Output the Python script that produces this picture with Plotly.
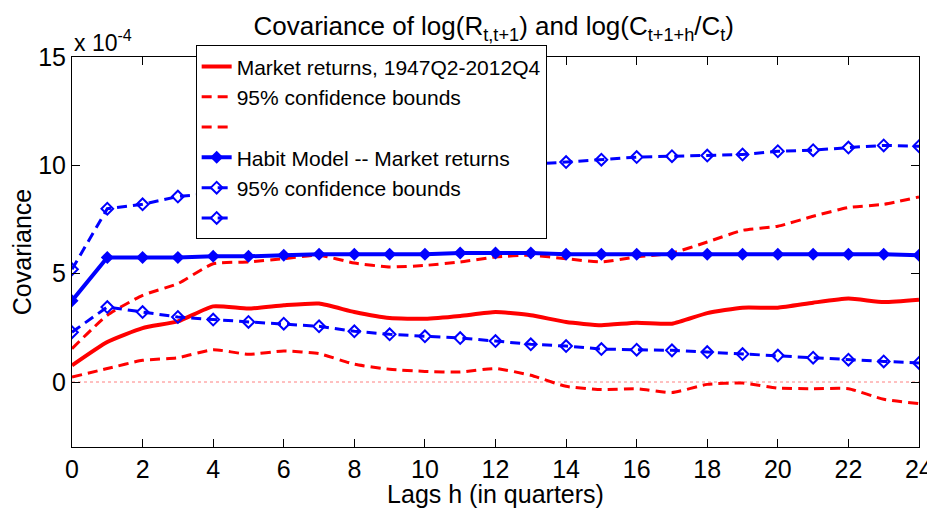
import plotly.graph_objects as go

SCALE = 1e-4
lags = list(range(25))

# values in units of 1e-4
market = [0.77, 1.85, 2.49, 2.80, 3.49, 3.39, 3.54, 3.62, 3.23, 2.95, 2.92, 3.05, 3.23,
          3.08, 2.77, 2.62, 2.74, 2.69, 3.18, 3.43, 3.43, 3.66, 3.85, 3.69, 3.80]
market_upper = [1.54, 3.08, 4.00, 4.54, 5.46, 5.54, 5.69, 5.85, 5.49, 5.31, 5.38, 5.54, 5.77,
                5.85, 5.69, 5.54, 5.77, 5.95, 6.46, 7.00, 7.19, 7.65, 8.05, 8.20, 8.54]
market_lower = [0.23, 0.62, 1.00, 1.12, 1.49, 1.28, 1.43, 1.31, 0.82, 0.59, 0.49, 0.46, 0.62,
                0.31, -0.20, -0.35, -0.31, -0.49, -0.11, -0.05, -0.28, -0.31, -0.31, -0.80, -1.00]
habit = [3.75, 5.75, 5.75, 5.75, 5.80, 5.80, 5.85, 5.90, 5.90, 5.90, 5.90, 5.95, 5.95,
         5.95, 5.90, 5.90, 5.90, 5.90, 5.90, 5.90, 5.90, 5.90, 5.90, 5.90, 5.85]
habit_upper = [5.20, 8.00, 8.20, 8.56, 8.70, 8.85, 9.00, 9.20, 9.35, 9.50, 9.65, 9.80, 9.90,
               10.05, 10.15, 10.26, 10.38, 10.42, 10.45, 10.50, 10.65, 10.70, 10.82, 10.92, 10.88]
habit_lower = [2.30, 3.46, 3.23, 3.00, 2.88, 2.77, 2.69, 2.57, 2.34, 2.20, 2.11, 2.03, 1.89,
               1.74, 1.66, 1.52, 1.49, 1.46, 1.38, 1.29, 1.22, 1.12, 1.03, 0.95, 0.88]

xticks = list(range(0, 25, 2))
yticks = [0, 5, 10, 15]
ytick_labels = ["0", "5", "10", "15"]

def sc(v):
    return [a * SCALE for a in v]

RED = "#ff0000"
BLUE = "#0000ff"
FONT = "Liberation Sans, Arial, sans-serif"
DASH = "10px,6px"

fig = go.Figure()

fig.add_trace(go.Scatter(x=lags, y=sc(market), mode="lines", name="Market returns, 1947Q2-2012Q4",
                         line=dict(color=RED, width=4, shape="spline", smoothing=0.5), legendrank=1))
fig.add_trace(go.Scatter(x=lags, y=sc(market_upper), mode="lines", name="95% confidence bounds",
                         line=dict(color=RED, width=3, dash=DASH, shape="spline", smoothing=0.5), legendrank=2))
fig.add_trace(go.Scatter(x=lags, y=sc(market_lower), mode="lines", name="",
                         line=dict(color=RED, width=3, dash=DASH, shape="spline", smoothing=0.5), legendrank=3))
fig.add_trace(go.Scatter(x=lags, y=sc(habit_upper), mode="lines+markers", name="95% confidence bounds",
                         line=dict(color=BLUE, width=3, dash=DASH),
                         marker=dict(symbol="diamond-open", size=9, color=BLUE, line=dict(width=2)),
                         legendrank=5))
fig.add_trace(go.Scatter(x=lags, y=sc(habit_lower), mode="lines+markers", name="",
                         line=dict(color=BLUE, width=3, dash=DASH),
                         marker=dict(symbol="diamond-open", size=9, color=BLUE, line=dict(width=2)),
                         legendrank=6))
fig.add_trace(go.Scatter(x=lags, y=sc(habit), mode="lines+markers", name="Habit Model -- Market returns",
                         line=dict(color=BLUE, width=4),
                         marker=dict(symbol="diamond", size=10, color=BLUE),
                         legendrank=4))

fig.add_shape(type="line", xref="paper", x0=0, x1=1, yref="y", y0=0, y1=0,
              line=dict(color="#ff8080", width=1, dash="dot"), layer="below")

fig.add_annotation(xref="paper", yref="paper", x=0.0, y=1.0, xanchor="left", yanchor="bottom",
                   text="x 10<sup>-4</sup>", showarrow=False, font=dict(size=23, color="black", family=FONT),
                   xshift=0, yshift=-1)

# page body has an 8px default margin: figure is offset by (8, 8)
fig.update_layout(
    width=927, height=500,
    margin=dict(l=64, r=16, t=49, b=61, autoexpand=False),
    paper_bgcolor="white", plot_bgcolor="white",
    font=dict(family=FONT, color="black", size=21),
    title=dict(text="Covariance of log(R<sub>t,t+1</sub>) and log(C<sub>t+1+h</sub>/C<sub>t</sub>)",
               x=0.524, xanchor="center", y=0.982, yanchor="top", font=dict(size=26)),
    showlegend=True,
    legend=dict(x=0.146, y=1.03, xanchor="left", yanchor="top", bgcolor="white",
                bordercolor="black", borderwidth=1, font=dict(size=21),
                itemwidth=30, tracegroupgap=0),
    xaxis=dict(range=[0, 24], tickvals=xticks, ticks="inside", ticklen=8, tickcolor="black",
               showline=True, linecolor="black", linewidth=1, mirror="ticks", showgrid=False,
               zeroline=False, tickfont=dict(size=25), automargin=False,
               title=dict(text="Lags h (in quarters)", font=dict(size=25), standoff=0)),
    yaxis=dict(range=[-3 * SCALE, 15 * SCALE], tickvals=sc(yticks), ticktext=ytick_labels,
               ticks="inside", ticklen=8, tickcolor="black",
               showline=True, linecolor="black", linewidth=1, mirror="ticks", showgrid=False,
               zeroline=False, tickfont=dict(size=25), automargin=False,
               title=dict(text="Covariance", font=dict(size=25), standoff=4)),
)

fig.write_html("out.html")
